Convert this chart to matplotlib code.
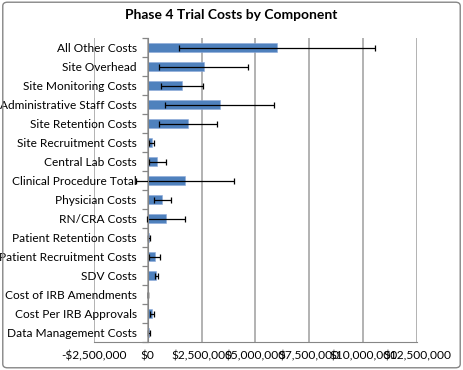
import numpy as np
import matplotlib.pyplot as plt
from matplotlib.patches import FancyBboxPatch
from matplotlib.ticker import FuncFormatter

plt.rcParams['font.family'] = ['Lato', 'DejaVu Sans']

# --- datos ---
components = [
    "All Other Costs", "Site Overhead", "Site Monitoring Costs",
    "Administrative Staff Costs", "Site Retention Costs",
    "Site Recruitment Costs", "Central Lab Costs",
    "Clinical Procedure Total", "Physician Costs", "RN/CRA Costs",
    "Patient Retention Costs", "Patient Recruitment Costs", "SDV Costs",
    "Cost of IRB Amendments", "Cost Per IRB Approvals",
    "Data Management Costs",
]
costs = [6000000, 2600000, 1570000, 3350000, 1870000, 180000, 440000,
         1730000, 680000, 840000, 50000, 310000, 390000, 20000, 180000,
         50000]
errors = [4530000, 2070000, 970000, 2530000, 1330000, 110000, 400000,
          2290000, 390000, 900000, 40000, 260000, 70000, 10000, 100000,
          30000]
xticks = [-2500000, 0, 2500000, 5000000, 7500000, 10000000, 12500000]


def money(v, pos=None):
    s = "${:,.0f}".format(abs(v))
    return "-" + s if v < 0 else s


fig = plt.figure(figsize=(4.63, 3.7), dpi=100)
ax = fig.add_axes([94 / 463, 1 - 342 / 370, (417 - 94) / 463, (342 - 38) / 370])

# eje de categorías cruzando en $0 (antes de configurar los ticks)
ax.spines["left"].set_position(("data", 0))
ax.spines["left"].set_color("#868686")
ax.spines["bottom"].set_color("#868686")
ax.spines["left"].set_zorder(5)
ax.spines["top"].set_visible(False)
ax.spines["right"].set_visible(False)

y = np.arange(len(components))
ax.barh(y, costs, height=0.45, color="#4F81BD", edgecolor="#8EAADB",
        linewidth=0.4, zorder=3)
ax.errorbar(costs, y, xerr=errors, fmt="none", ecolor="black",
            elinewidth=0.9, capsize=2.2, capthick=0.9, zorder=4)

ax.set_ylim(len(components) - 0.5, -0.5)
ax.set_yticks(y)
ax.set_yticklabels(components)
ax.set_yticks(np.arange(-0.5, len(components), 1), minor=True)
ax.tick_params(axis="y", which="major", length=0, pad=8, labelsize=8.6)
ax.tick_params(axis="y", which="minor", length=4, color="#868686", width=0.9)

ax.set_xlim(-2500000, 12500000)
ax.set_xticks(xticks)
ax.xaxis.set_major_formatter(FuncFormatter(money))
ax.tick_params(axis="x", length=0, labelsize=8.6, pad=6)
ax.grid(axis="x", color="#A6A6A6", linewidth=1.2, zorder=0)

fig.suptitle("Phase 4 Trial Costs by Component", fontsize=10,
             fontweight="bold", x=0.5, y=0.975)

border = FancyBboxPatch((0.006, 0.006), 0.988, 0.988,
                        boxstyle="round,pad=0,rounding_size=0.01",
                        transform=fig.transFigure, fill=False,
                        edgecolor="#868686", linewidth=1.0)
fig.patches.append(border)

fig.savefig("out.png", dpi=100)
